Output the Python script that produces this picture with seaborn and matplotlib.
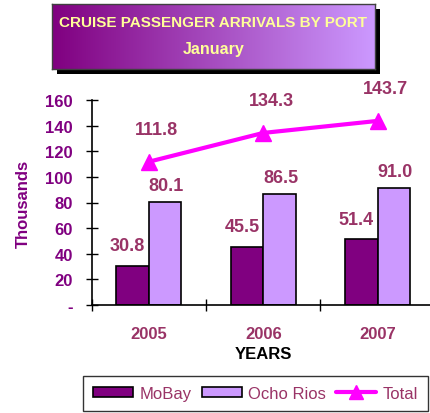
import numpy as np
import pandas as pd
import matplotlib
matplotlib.use("Agg")
import matplotlib.pyplot as plt
import seaborn as sns
from matplotlib.patches import Patch, Rectangle
from matplotlib.lines import Line2D
from matplotlib.colors import LinearSegmentedColormap

years = ["2005", "2006", "2007"]
mobay = [30.8, 45.5, 51.4]
ocho_rios = [80.1, 86.5, 91.0]
total = [111.8, 134.3, 143.7]
yticks = [0, 20, 40, 60, 80, 100, 120, 140, 160]
ytick_labels = ["-", "20", "40", "60", "80", "100", "120", "140", "160"]

sns.set_theme(style="white")
plt.rcParams["font.family"] = ["Liberation Sans", "DejaVu Sans"]

W, H = 431, 414
fig = plt.figure(figsize=(W / 100, H / 100), dpi=100)

def fx(px):
    return px / W

def fy(py):
    return 1 - py / H

ax = fig.add_axes([fx(91.5), fy(306), fx(435) - fx(91.5), fy(101) - fy(306)])

df = pd.DataFrame({
    "Year": years * 2,
    "Value": mobay + ocho_rios,
    "Port": ["MoBay"] * 3 + ["Ocho Rios"] * 3,
})
c_mobay = "#800080"
c_ocho = "#CC99FF"
c_total = "#FF00FF"
c_lab = "#993366"
sns.barplot(data=df, x="Year", y="Value", hue="Port", order=years,
            palette=[c_mobay, c_ocho], edgecolor="black", linewidth=1.2,
            width=0.57, gap=0, ax=ax, legend=False, saturation=1)

xs = np.arange(len(years))
ax.plot(xs, total, color=c_total, lw=3, marker="^", markersize=11, zorder=5)

lab_kw = dict(color=c_lab, fontsize=13, fontweight="bold", ha="center", va="center")
for i in range(len(years)):
    ax.annotate(f"{mobay[i]:.1f}", (i - 0.1425, mobay[i]), xytext=(-5, 20),
                textcoords="offset pixels", **lab_kw)
    ax.annotate(f"{ocho_rios[i]:.1f}", (i + 0.1425, ocho_rios[i]), xytext=(1, 17),
                textcoords="offset pixels", **lab_kw)
    ax.annotate(f"{total[i]:.1f}", (i, total[i]), xytext=(8, 32),
                textcoords="offset pixels", **lab_kw)

ax.set_xlim(-0.5, 2.5)
ax.set_ylim(0, 160)
ax.set_yticks(yticks)
ax.set_yticklabels(ytick_labels, color="#800080", fontsize=12, fontweight="bold")
ax.tick_params(axis="y", direction="inout", length=9, width=1, color="black", pad=9, left=True)
ax.set_xticks(xs)
ax.set_xticklabels(years, color=c_lab, fontsize=12, fontweight="bold")
ax.tick_params(axis="x", which="major", length=0, pad=15)
ax.set_xticks([-0.5, 0.5, 1.5], minor=True)
ax.tick_params(axis="x", which="minor", direction="inout", length=9, width=1, color="black", bottom=True)
ax.set_xlabel("YEARS", fontsize=12, fontweight="bold", color="black", labelpad=4)
ax.set_ylabel("Thousands", fontsize=12, fontweight="bold", color="#800080", labelpad=10)
for s in ["top", "right"]:
    ax.spines[s].set_visible(False)
for s in ["left", "bottom"]:
    ax.spines[s].set_color("black")
    ax.spines[s].set_linewidth(1.2)
ax.set_facecolor("white")

# Title box with shadow and gradient
bx0, by0, bx1, by1 = 52, 5, 375, 70
fig.patches.append(Rectangle((fx(bx0 + 5), fy(by1 + 5)), fx(bx1 - bx0), fy(by0) - fy(by1),
                             transform=fig.transFigure, facecolor="black", edgecolor="none", zorder=0))
tax = fig.add_axes([fx(bx0), fy(by1), fx(bx1 - bx0), fy(by0) - fy(by1)], zorder=2)
grad = np.linspace(0, 1, 256).reshape(1, -1)
cmap = LinearSegmentedColormap.from_list("g", ["#800080", "#CC99FF"])
tax.imshow(grad, aspect="auto", cmap=cmap, extent=[0, 1, 0, 1])
tax.set_xticks([])
tax.set_yticks([])
for s in tax.spines.values():
    s.set_color("#404040")
    s.set_linewidth(1)
tax.text(0.5, 0.72, "CRUISE PASSENGER ARRIVALS BY PORT", color="#FFFF99", fontsize=11,
         fontweight="bold", ha="center", va="center", transform=tax.transAxes)
tax.text(0.5, 0.32, "January", color="#FFFF99", fontsize=11.5,
         fontweight="bold", ha="center", va="center", transform=tax.transAxes)

handles = [
    Patch(facecolor=c_mobay, edgecolor="black", linewidth=1.2, label="MoBay"),
    Patch(facecolor=c_ocho, edgecolor="black", linewidth=1.2, label="Ocho Rios"),
    Line2D([], [], color=c_total, lw=3, marker="^", markersize=10, label="Total"),
]
leg = fig.legend(handles=handles, loc="lower left", ncol=3,
                 bbox_to_anchor=(fx(83), fy(412), fx(428) - fx(83), fy(372) - fy(412)),
                 mode="expand", frameon=True, fancybox=False, fontsize=12,
                 handlelength=2.4, handleheight=0.6, handletextpad=0.4,
                 borderaxespad=0, borderpad=0.6, columnspacing=1.0)
leg.get_frame().set_edgecolor("black")
leg.get_frame().set_linewidth(1)
for t in leg.get_texts():
    t.set_color(c_lab)

fig.savefig("out.png", dpi=100, facecolor="white")
